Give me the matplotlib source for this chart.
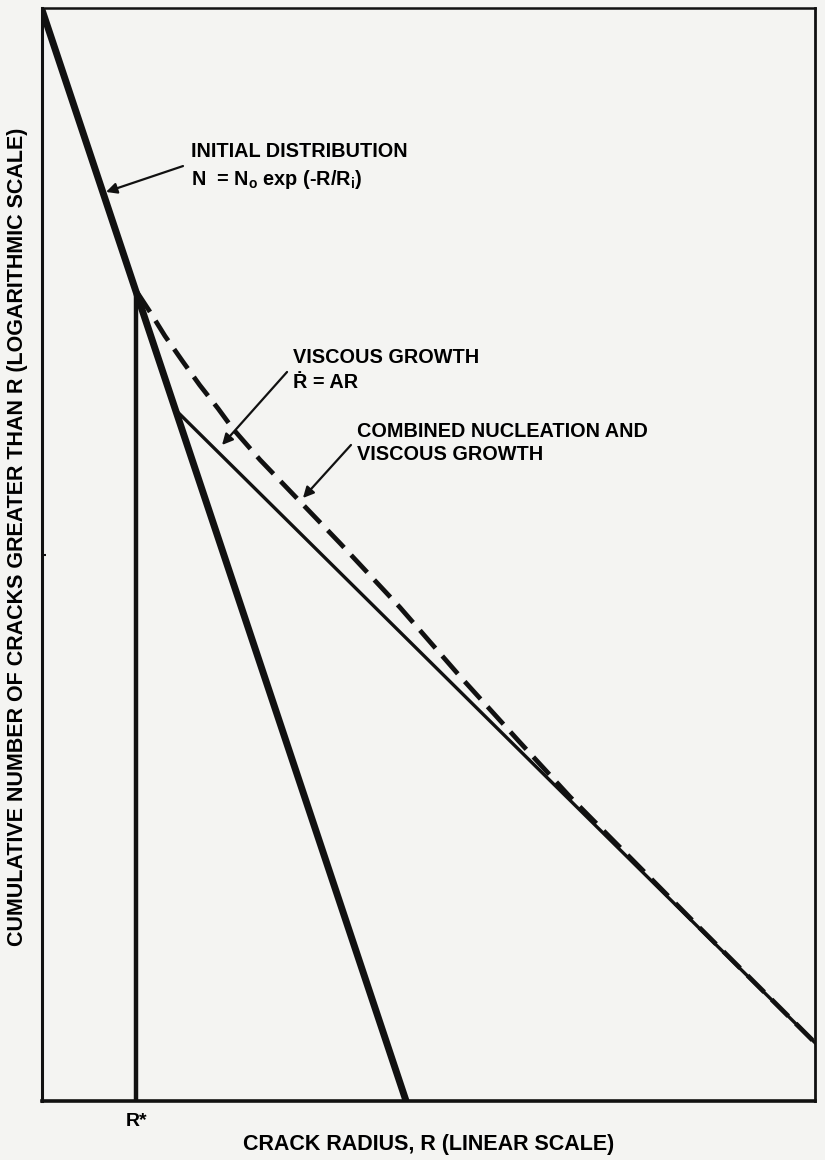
import matplotlib
matplotlib.use("Agg")
import matplotlib.pyplot as plt
import numpy as np

plt.rcParams['font.family'] = ['Liberation Sans', 'DejaVu Sans']
plt.rcParams['font.weight'] = 'bold'
plt.rcParams['mathtext.fontset'] = 'custom'
plt.rcParams['mathtext.rm'] = 'Liberation Sans:bold'
plt.rcParams['mathtext.it'] = 'Liberation Sans:bold'
plt.rcParams['mathtext.bf'] = 'Liberation Sans:bold'

# crack radius R (linear units) and log10 of cumulative number N
R_initial = [0.0, 4.71]
logN_initial = [5.99, 0.0]

R_star = 1.22
logN_star = [0.0, 4.44]

R_viscous = [1.76, 10.0]
logN_viscous = [3.78, 0.32]

R_combined = [1.23, 1.40, 1.59, 1.82, 2.04, 2.28, 2.47, 2.82, 3.34, 3.86,
              4.63, 5.41, 6.18, 6.83, 7.74, 8.51, 10.0]
logN_combined = [4.44, 4.33, 4.20, 4.06, 3.93, 3.80, 3.69, 3.52, 3.29, 3.06,
                 2.71, 2.33, 1.97, 1.67, 1.28, 0.95, 0.32]

bg = '#f4f4f2'
ink = '#111111'

fig = plt.figure(figsize=(8.25, 11.6), dpi=100, facecolor=bg)
ax = fig.add_axes([42 / 825, 1 - 1101 / 1160, 773 / 825, 1093 / 1160])
ax.set_facecolor(bg)
ax.set_yscale('log')
ax.set_xlim(0, 10)
ax.set_ylim(1, 1e6)

ax.plot(R_initial, 10 ** np.array(logN_initial), color=ink, lw=5, solid_capstyle='butt')
ax.plot([R_star, R_star], 10 ** np.array(logN_star), color=ink, lw=3.2, solid_capstyle='butt')
ax.plot(R_viscous, 10 ** np.array(logN_viscous), color=ink, lw=2.4)
ax.plot(R_combined, 10 ** np.array(logN_combined), color=ink, lw=3.4,
        dashes=(5, 2.2), dash_capstyle='butt')

for side, lw in [('left', 2.2), ('bottom', 2.6), ('top', 1.8), ('right', 2.0)]:
    ax.spines[side].set_linewidth(lw)
    ax.spines[side].set_color(ink)

ax.set_xticks([R_star])
ax.set_xticklabels(['R*'])
ax.tick_params(axis='x', length=0, pad=9, labelsize=14)
ax.set_yticks([1e3])
ax.set_yticklabels([''])
ax.yaxis.set_minor_locator(matplotlib.ticker.NullLocator())
ax.tick_params(axis='y', direction='in', length=3, width=1.5, color=ink)

ax.set_xlabel('CRACK RADIUS, R (LINEAR SCALE)', fontsize=15.5, fontweight='bold')
ax.xaxis.set_label_coords(0.5, -0.040)
ax.xaxis.label.set_va('center')
ax.set_ylabel('CUMULATIVE NUMBER OF CRACKS GREATER THAN R (LOGARITHMIC SCALE)',
              fontsize=15.5, fontweight='bold')
ax.yaxis.set_label_coords(-0.0323, 0.516)
ax.yaxis.label.set_va('center')

fs = 14.3
ax.text(0.1928, 0.8637, 'INITIAL DISTRIBUTION', transform=ax.transAxes,
        fontsize=fs, va='baseline')
ax.text(0.1928, 0.8381, r'N  = N$_\mathrm{o}$ exp (-R/R$_\mathrm{i}$)',
        transform=ax.transAxes, fontsize=fs, va='baseline')
ax.text(0.3247, 0.6752, 'VISCOUS GROWTH', transform=ax.transAxes,
        fontsize=fs, va='baseline')
ax.text(0.3247, 0.6523, '\u1E58 = AR', transform=ax.transAxes,
        fontsize=fs, va='baseline')
ax.text(0.4075, 0.6075, 'COMBINED NUCLEATION AND', transform=ax.transAxes,
        fontsize=fs, va='baseline')
ax.text(0.4075, 0.5865, 'VISCOUS GROWTH', transform=ax.transAxes,
        fontsize=fs, va='baseline')

arrow = dict(arrowstyle='-|>', lw=1.6, color=ink, mutation_scale=16,
             shrinkA=0, shrinkB=0)
ax.annotate('', xy=(0.0828, 0.8317), xytext=(0.1824, 0.8554),
            xycoords='axes fraction', textcoords='axes fraction', arrowprops=arrow)
ax.annotate('', xy=(0.2329, 0.6002), xytext=(0.3170, 0.6670),
            xycoords='axes fraction', textcoords='axes fraction', arrowprops=arrow)
ax.annotate('', xy=(0.3376, 0.5517), xytext=(0.3997, 0.6002),
            xycoords='axes fraction', textcoords='axes fraction', arrowprops=arrow)

fig.savefig('out.png', dpi=100, facecolor=bg)
